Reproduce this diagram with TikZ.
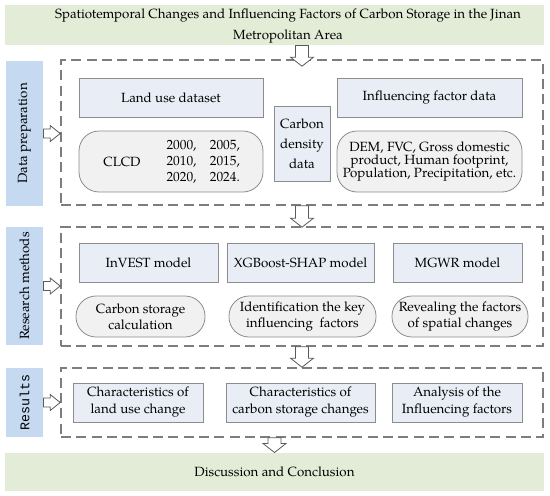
\documentclass[tikz,border=0pt]{standalone}
\usepackage{fontspec}
\setmainfont{texgyrepagella}[Extension=.otf, UprightFont=*-regular, BoldFont=*-bold, ItalicFont=*-italic, BoldItalicFont=*-bolditalic]
\newfontfamily\labelmono{Liberation Mono}
\usetikzlibrary{calc,fit}

\definecolor{bannergreen}{RGB}{227,236,214}
\definecolor{sideblue}{RGB}{197,217,241}
\definecolor{boxblue}{RGB}{233,238,246}
\definecolor{ovalgray}{RGB}{241,241,241}
\definecolor{edgegray}{RGB}{140,140,140}
\definecolor{dashgray}{RGB}{125,125,125}
\definecolor{arrowgray}{RGB}{90,90,90}

\tikzset{every picture/.style={line width=0.75pt}}
\tikzset{
  banner/.style={fill=bannergreen, draw=none, inner sep=0pt},
  sidelabel/.style={fill=sideblue, draw=none, inner sep=0pt},
  sidetext/.style={rotate=90, inner sep=0.75pt},
  dashbox/.style={draw=dashgray, line width=1.2pt, dash pattern=on 7.5pt off 4pt, inner sep=0pt},
  databox/.style={draw=edgegray, fill=boxblue, line width=0.6pt, inner sep=0pt},
  ovalbox/.style={draw=edgegray, fill=ovalgray, line width=0.6pt, rounded corners=15pt, inner sep=0pt},
  boxtext/.style={inner sep=0pt, align=center},
  hollow/.style={draw=arrowgray, fill=white, line width=0.6pt, line join=miter},
}

% hollow block arrow downwards: start #1, end #2, tip offset #3
\newcommand{\downblock}[3]{%
  \draw[hollow] ($(#2 |- #1)+(-6.5,0)$) -- ($(#2)+(-6.5,#3-9)$) -- ($(#2)+(-11.5,#3-9)$) -- ($(#2)+(0,#3)$)
    -- ($(#2)+(11.5,#3-9)$) -- ($(#2)+(6.5,#3-9)$) -- ($(#2 |- #1)+(6.5,0)$) -- cycle ;}
% hollow block arrow to the right: start #1, end #2
\newcommand{\rightblock}[2]{%
  \draw[hollow] ($(#1)+(0,-4.5)$) -- ($(#2 |- #1)+(-10,-4.5)$) -- ($(#2 |- #1)+(-10,-8)$) -- (#2 |- #1)
    -- ($(#2 |- #1)+(-10,8)$) -- ($(#2 |- #1)+(-10,4.5)$) -- ($(#1)+(0,4.5)$) -- cycle ;}

\begin{document}
\begin{tikzpicture}[x=0.75pt,y=0.75pt,yscale=-1,xscale=1]
\useasboundingbox (0,0) rectangle (550,496);

%Banners
\node[banner, fit={(5,5) (544,45)}] (title) {};
\node[boxtext] (titletxt) at (288,26) {Spatiotemporal Changes and Influencing Factors of Carbon Storage in the Jinan\\[3.75pt]Metropolitan Area};
\node[banner, fit={(5,453) (544,491)}] (concl) {};
\node[boxtext] (concltxt) at (concl.center) {Discussion and Conclusion};

%Side labels
\node[sidelabel, fit={(6,61) (43,206)}] (dplab) {};
\node[sidetext] (dptxt) at (dplab.center) {Data preparation};
\node[sidelabel, fit={(6,227) (43,345)}] (rmlab) {};
\node[sidetext] (rmtxt) at (rmlab.center) {Research methods};
\node[sidelabel, fit={(6,368) (43,437)}] (reslab) {};
\node[sidetext] (restxt) at (reslab.center) {\labelmono Results};

%Dashed frames
\node[dashbox, fit={(61,60) (543,205)}] (dp) {};
\node[dashbox, fit={(61,227) (543,346)}] (rm) {};
\node[dashbox, fit={(61,368) (543,437)}] (res) {};

%Data preparation
\node[databox, fit={(79,78) (263,117)}] (landuse) {};
\node[boxtext] at (landuse.center) {Land use dataset};
\node[databox, fit={(337,78) (522,117)}] (inffac) {};
\node[boxtext] at (inffac.center) {Influencing factor data};
\node[databox, fit={(274,106) (330,181)}] (cdens) {};
\node[boxtext] at (cdens.center) {Carbon\\[3pt]density\\[3pt]data};
\node[ovalbox, fit={(79,131) (263,192)}] (clcd) {};
\node[boxtext] (clcdname) at (122,162) {CLCD};
\node[inner sep=0pt, anchor=west] (years) at (166,162) {\begin{tabular}{@{}l@{\hspace{10pt}}l@{}}2000, & 2005,\\ 2010, & 2015,\\ 2020, & 2024.\end{tabular}};
\node[ovalbox, fit={(337,131) (522,192)}] (drivers) {};
\node[boxtext] at (drivers.center) {DEM, FVC, Gross domestic\\[-2pt]product, Human footprint,\\[-2pt]Population, Precipitation, etc.};

%Research methods
\node[databox, fit={(79,243) (218,282)}] (invest) {};
\node[boxtext] at (invest.center) {InVEST model};
\node[databox, fit={(227,243) (374,282)}] (xgb) {};
\node[boxtext] at (xgb.center) {XGBoost-SHAP model};
\node[databox, fit={(393,243) (522,282)}] (mgwr) {};
\node[boxtext] at (mgwr.center) {MGWR model};
\node[ovalbox, fit={(76,296) (205,337)}] (cstore) {};
\node[boxtext] at (cstore.center) {Carbon storage\\calculation};
\node[ovalbox, fit={(229,296) (376,337)}] (keyfac) {};
\node[boxtext] at (keyfac.center) {Identification the key\\influencing~ factors};
\node[ovalbox, fit={(392,296) (528,337)}] (spatial) {};
\node[boxtext] at (spatial.center) {Revealing the factors\\of spatial changes};

%Results
\node[databox, fit={(73,383) (203,422)}] (lucc) {};
\node[boxtext] at (lucc.center) {Characteristics of\\[0.75pt]land use change};
\node[databox, fit={(226,383) (375,422)}] (cchange) {};
\node[boxtext] at (cchange.center) {Characteristics of\\[0.75pt]carbon storage changes};
\node[databox, fit={(392,383) (522,422)}] (analysis) {};
\node[boxtext] at (analysis.center) {Analysis of the\\[0.75pt]Influencing factors};

%Block arrows
\downblock{title.south}{dp.north}{7}
\downblock{dp.south}{rm.north}{1}
\downblock{rm.south}{res.north}{0}
\downblock{res.south}{concl.north}{0}
\rightblock{dplab.east}{dp.west}
\rightblock{rmlab.east}{rm.west}
\rightblock{reslab.east}{res.west}

\end{tikzpicture}
\end{document}
